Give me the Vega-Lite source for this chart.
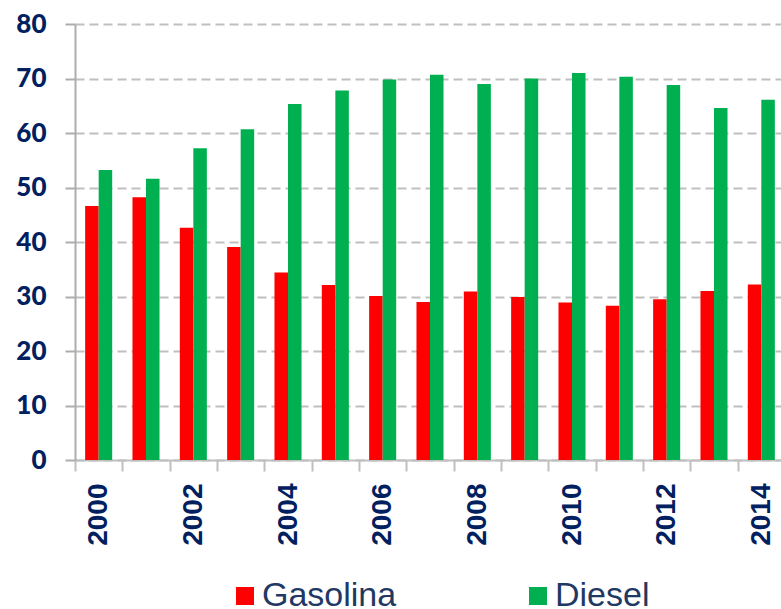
{
  "$schema": "https://vega.github.io/schema/vega-lite/v6.json",
  "width": 710,
  "height": 436,
  "autosize": "none",
  "padding": {"left": 75, "top": 24, "right": 0, "bottom": 149},
  "background": "white",
  "data": {
    "values": [
      {"year": "2000", "fuel": "Gasolina", "value": 46.6},
      {"year": "2000", "fuel": "Diesel", "value": 53.2},
      {"year": "2001", "fuel": "Gasolina", "value": 48.2},
      {"year": "2001", "fuel": "Diesel", "value": 51.6},
      {"year": "2002", "fuel": "Gasolina", "value": 42.6},
      {"year": "2002", "fuel": "Diesel", "value": 57.2},
      {"year": "2003", "fuel": "Gasolina", "value": 39.1},
      {"year": "2003", "fuel": "Diesel", "value": 60.7},
      {"year": "2004", "fuel": "Gasolina", "value": 34.4},
      {"year": "2004", "fuel": "Diesel", "value": 65.3},
      {"year": "2005", "fuel": "Gasolina", "value": 32.1},
      {"year": "2005", "fuel": "Diesel", "value": 67.8},
      {"year": "2006", "fuel": "Gasolina", "value": 30.1},
      {"year": "2006", "fuel": "Diesel", "value": 69.8},
      {"year": "2007", "fuel": "Gasolina", "value": 29.0},
      {"year": "2007", "fuel": "Diesel", "value": 70.7},
      {"year": "2008", "fuel": "Gasolina", "value": 30.9},
      {"year": "2008", "fuel": "Diesel", "value": 69.0},
      {"year": "2009", "fuel": "Gasolina", "value": 29.9},
      {"year": "2009", "fuel": "Diesel", "value": 70.0},
      {"year": "2010", "fuel": "Gasolina", "value": 28.9},
      {"year": "2010", "fuel": "Diesel", "value": 71.0},
      {"year": "2011", "fuel": "Gasolina", "value": 28.3},
      {"year": "2011", "fuel": "Diesel", "value": 70.3},
      {"year": "2012", "fuel": "Gasolina", "value": 29.5},
      {"year": "2012", "fuel": "Diesel", "value": 68.8},
      {"year": "2013", "fuel": "Gasolina", "value": 31.0},
      {"year": "2013", "fuel": "Diesel", "value": 64.6},
      {"year": "2014", "fuel": "Gasolina", "value": 32.2},
      {"year": "2014", "fuel": "Diesel", "value": 66.1}
    ]
  },
  "mark": {"type": "bar"},
  "encoding": {
    "x": {
      "field": "year",
      "type": "ordinal",
      "scale": {"paddingInner": 0, "paddingOuter": 0},
      "axis": {
        "title": null,
        "grid": false,
        "tickBand": "extent",
        "labelExpr": "parseInt(datum.value) % 2 == 0 ? datum.label : ''",
        "labelAngle": -90,
        "labelFont": "Liberation Sans",
        "labelFontWeight": "bold",
        "labelFontSize": 28,
        "labelColor": "#002060",
        "labelPadding": 12,
        "tickSize": 11,
        "tickWidth": 2,
        "tickColor": "#BFBFBF",
        "domainColor": "#BFBFBF",
        "domainWidth": 2
      }
    },
    "xOffset": {
      "field": "fuel",
      "sort": ["Gasolina", "Diesel"],
      "scale": {"paddingInner": 0, "paddingOuter": 0.75}
    },
    "y": {
      "field": "value",
      "type": "quantitative",
      "scale": {"domain": [0, 80]},
      "axis": {
        "title": null,
        "values": [0, 10, 20, 30, 40, 50, 60, 70, 80],
        "grid": true,
        "gridDash": [9, 5],
        "gridColor": "#BFBFBF",
        "gridWidth": 2,
        "domainColor": "#ADADAD",
        "domainWidth": 2,
        "tickColor": "#ADADAD",
        "tickSize": 10,
        "tickWidth": 2,
        "labelFont": "Lato",
        "labelFontWeight": 900,
        "labelFontSize": 26,
        "labelColor": "#002060",
        "labelPadding": 19
      }
    },
    "color": {
      "field": "fuel",
      "type": "nominal",
      "sort": ["Gasolina", "Diesel"],
      "scale": {"domain": ["Gasolina", "Diesel"], "range": ["#FF0000", "#00B050"]},
      "legend": {
        "title": null,
        "orient": "none",
        "legendX": 153,
        "legendY": 555,
        "padding": 0,
        "direction": "horizontal",
        "symbolType": "square",
        "symbolSize": 324,
        "symbolStrokeWidth": 0,
        "labelFont": "Liberation Sans",
        "labelFontSize": 34,
        "labelColor": "#1F3864",
        "labelOffset": 0,
        "columnPadding": 124,
        "labelLimit": 300
      }
    }
  },
  "config": {"view": {"stroke": null}}
}
